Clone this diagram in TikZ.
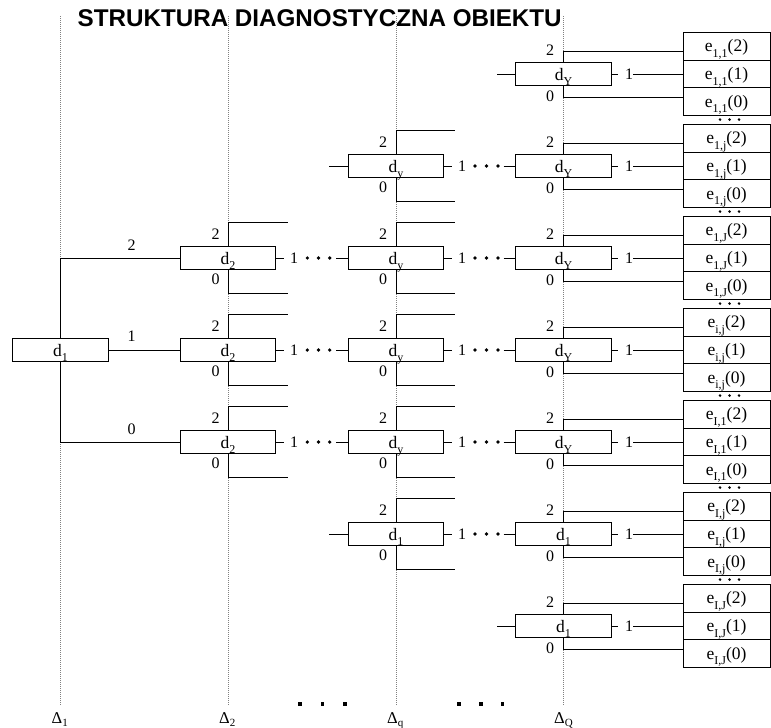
\documentclass[tikz,border=0pt]{standalone}
\usepackage{fontspec}
\setmainfont{Liberation Serif}
\newfontfamily\titlefnt{Liberation Sans}
\usetikzlibrary{calc}
\newcommand\dgmfnt{\fontsize{17.5}{17.5}\selectfont}
\newcommand\lblfnt{\fontsize{16}{16}\selectfont}
\newcommand\dsub[1]{d\raisebox{-4.5pt}{\fontsize{12}{12}\selectfont #1}}
\newcommand\esub[2]{e\raisebox{-5.5pt}{\fontsize{12}{12}\selectfont #1}(#2)}
\begin{document}
\begin{tikzpicture}[x=1pt,y=-1pt,
  dbox/.style={draw, fill=white, line width=0.9pt, minimum width=95.6pt, minimum height=22.8pt,
    inner sep=0pt, text height=13.2pt, text depth=0pt, font=\dgmfnt},
  ebox/.style={draw, fill=white, line width=0.9pt, minimum width=87pt, minimum height=27.6pt,
    inner sep=0pt, text height=11pt, text depth=0pt, font=\dgmfnt},
  lab/.style={font=\lblfnt, anchor=base, inner sep=0pt},
  one/.style={font=\lblfnt, inner sep=0pt, text height=10.5pt, text depth=0pt},
  guide/.style={gray, line width=0.6pt, dash pattern=on 1pt off 1pt},
  wire/.style={line width=0.9pt}]
\useasboundingbox (0,0) rectangle (771,728);

% guide lines
\foreach \x in {60.5,228,396,563.5} { \draw[guide] (\x,16) -- (\x,705); }

% title
\node[anchor=base west, inner sep=0pt, font=\titlefnt\bfseries\fontsize{24.2}{24.2}\selectfont] (title) at (77.5,27) {STRUKTURA DIAGNOSTYCZNA OBIEKTU};

% bottom labels
\node[anchor=base west, inner sep=0pt, font=\fontsize{16.5}{16.5}\selectfont] (D1) at (51.5,723.3) {Δ\raisebox{-3.5pt}{\fontsize{11}{11}\selectfont 1}};
\node[anchor=base west, inner sep=0pt, font=\fontsize{16.5}{16.5}\selectfont] (D2) at (219,723.3) {Δ\raisebox{-3.5pt}{\fontsize{11}{11}\selectfont 2}};
\node[anchor=base west, inner sep=0pt, font=\fontsize{16.5}{16.5}\selectfont] (Dq) at (387,723.3) {Δ\raisebox{-3.5pt}{\fontsize{11}{11}\selectfont q}};
\node[anchor=base west, inner sep=0pt, font=\fontsize{16.5}{16.5}\selectfont] (DQ) at (554,723.3) {Δ\raisebox{-3.5pt}{\fontsize{11}{11}\selectfont Q}};
\foreach \x in {300,322.7,345,459,481,502.7} { \fill (\x-1.7,702.3) rectangle ++(3.4,3.4); }

% column 4 and e boxes
\foreach \k/\c/\lab/\sub in {1/74/Y/{1,1}, 2/166/Y/{1,j}, 3/258/Y/{1,J}, 4/350/Y/{i,j}, 5/442/Y/{I,1}, 6/534/1/{I,j}, 7/626/1/{I,J}} {
  \node[ebox] (e\k t) at (726.5,\c-27.6) {\esub{\sub}{2}};
  \node[ebox] (e\k m) at (726.5,\c) {\esub{\sub}{1}};
  \node[ebox] (e\k b) at (726.5,\c+27.6) {\esub{\sub}{0}};
  \node[dbox] (q\k) at (563.5,\c) {\dsub{\lab}};
  \node[lab] (qa\k) at (550,\c-18.5) {2};
  \node[lab] (qb\k) at (550,\c+27) {0};
  \draw[wire] (q\k.north) |- ($(e\k t.west)+(0,4.6)$);
  \draw[wire] (q\k.south) |- ($(e\k b.west)+(0,-4.6)$);
  \node[one] (o\k) at (629,\c) {1};
  \draw[wire] (q\k.east) -- ++(6,0);
  \draw[wire] (o\k.east) -- (e\k m.west);
}
\foreach \c in {74,166,258,350,442,534} {
  \foreach \x in {720,729.5,739} { \fill (\x,\c+45.6) circle (1.4); }
}

% column 3
\foreach \k/\c/\lab in {2/166/y,3/258/y,4/350/y,5/442/y,6/534/1} {
  \node[dbox] (p\k) at (396,\c) {\dsub{\lab}};
  \draw[wire] (p\k.north) |- ++(59,-23.6);
  \draw[wire] (p\k.south) |- ++(59,23.6);
  \node[lab] (pa\k) at (383,\c-18.3) {2};
  \node[lab] (pb\k) at (383,\c+26.8) {0};
  \draw[wire] (p\k.east) -- ++(7.7,0);
  \node[one] (po\k) at (462,\c) {1};
  \foreach \x in {475,486.5,498} { \fill (\x,\c) circle (1.8); }
  \coordinate (ps\k) at (503.5,\c);
  \draw[wire] (ps\k) -- (q\k.west);
}

% column 2
\foreach \k/\c in {3/258,4/350,5/442} {
  \node[dbox] (b\k) at (228,\c) {\dsub{2}};
  \draw[wire] (b\k.north) |- ++(60,-23.6);
  \draw[wire] (b\k.south) |- ++(60,23.6);
  \node[lab] (ba\k) at (215.5,\c-18.3) {2};
  \node[lab] (bb\k) at (215.5,\c+26.8) {0};
  \draw[wire] (b\k.east) -- ++(7.7,0);
  \node[one] (bo\k) at (294.2,\c) {1};
  \foreach \x in {307.3,318.5,329.7} { \fill (\x,\c) circle (1.8); }
  \coordinate (bs\k) at (336,\c);
  \draw[wire] (bs\k) -- (p\k.west);
}

% free inputs
\coordinate (in1) at (497,74);
\coordinate (in7) at (497,626);
\coordinate (in2) at (329.3,166);
\coordinate (in6) at (329.3,534);
\draw[wire] (in1) -- (q1.west);
\draw[wire] (in7) -- (q7.west);
\draw[wire] (in2) -- (p2.west);
\draw[wire] (in6) -- (p6.west);

% column 1
\node[dbox] (a4) at (60.5,350) {\dsub{1}};
\draw[wire] (a4.north) |- (b3.west);
\draw[wire] (a4.east) -- (b4.west);
\draw[wire] (a4.south) |- (b5.west);
\node[lab] (a2) at (131.5,250.7) {2};
\node[lab] (a1) at (131.5,341.7) {1};
\node[lab] (a0) at (131.5,434.5) {0};
\end{tikzpicture}
\end{document}
